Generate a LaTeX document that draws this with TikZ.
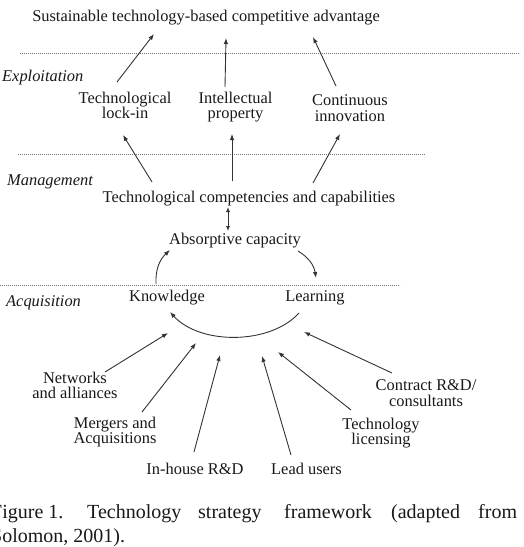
\documentclass[tikz,border=0pt]{standalone}
\usepackage{fontspec}
\setmainfont{Liberation Serif}
\usetikzlibrary{arrows.meta}
\begin{document}
\begin{tikzpicture}[x=1pt,y=-1pt,
  lbl/.style={inner sep=0pt, anchor=base, font=\fontsize{16.4}{15.5}\selectfont, text=black!90, align=center},
  lvl/.style={inner sep=0pt, anchor=base west, font=\fontsize{16.4}{16}\selectfont\itshape, text=black!90},
  captxt/.style={inner sep=0pt, anchor=base west, font=\fontsize{20}{24}\selectfont, text=black!90},
  arr/.style={-{Latex[length=6pt,width=4.5pt]}, line width=0.9pt, draw=black!80},
  dbl/.style={{Latex[length=5pt,width=4pt]}-{Latex[length=5pt,width=4pt]}, line width=0.9pt, draw=black!80},
  dots/.style={draw=black!55, line width=0.6pt, dash pattern=on 0.7pt off 1.3pt}]
\clip (0,0) rectangle (523,547);
\fill[white] (0,0) rectangle (523,547);

% level lines
\draw[dots] (20,53) -- (520,53);
\draw[dots] (18,154) -- (425,154);
\draw[dots] (0,285) -- (400,285);

% level labels
\node[lvl] (expl) at (2,81) {Exploitation};
\node[lvl] (mgmt) at (7,185) {Management};
\node[lvl] (acq) at (6,306) {Acquisition};

% main nodes (multi-line nodes: base = last line)
\node[lbl] (title) at (206,21) {Sustainable technology-based competitive advantage};
\node[lbl] (lockin) at (125,118.5) {Technological\\lock-in};
\node[lbl] (ip) at (235.5,118.5) {Intellectual\\property};
\node[lbl] (ci) at (350,121) {Continuous\\innovation};
\node[lbl] (tcc) at (249,202) {Technological competencies and capabilities};
\node[lbl] (ac) at (235,244) {Absorptive capacity};
\node[lbl] (know) at (167,301) {Knowledge};
\node[lbl] (learn) at (315,301) {Learning};

\node[lbl] (net) at (75,398.5) {Networks\\and alliances};
\node[lbl] (ma) at (115,443.5) {Mergers and\\Acquisitions};
\node[lbl] (inh) at (195,474) {In-house R\&D};
\node[lbl] (lead) at (306.5,474) {Lead users};
\node[lbl] (lic) at (381,444.5) {Technology\\licensing};
\node[lbl] (con) at (426,406) {Contract R\&D/\\consultants};

% connector end points
\coordinate (t1) at (154,34);  \coordinate (l1) at (117,82);
\coordinate (t2) at (226,38);  \coordinate (i1) at (225,87);
\coordinate (t3) at (313,37);  \coordinate (c1) at (336,86);
\coordinate (l2) at (123,135); \coordinate (m1) at (152,182);
\coordinate (i2) at (232,134); \coordinate (m2) at (232,181);
\coordinate (c2) at (340,134); \coordinate (m3) at (313,183);
\coordinate (m4) at (228,207); \coordinate (a1) at (228,231);
\coordinate (k1) at (156,284); \coordinate (a2) at (170,250);
\coordinate (a3) at (298,251); \coordinate (r1) at (316,278);
\coordinate (r2) at (299,313); \coordinate (k2) at (170,312);
\coordinate (h1) at (168,333); \coordinate (n1) at (105,372);
\coordinate (h2) at (196,343); \coordinate (g1) at (142,412);
\coordinate (h3) at (220,355); \coordinate (d1) at (194,452);
\coordinate (h4) at (262,356); \coordinate (u1) at (291,455);
\coordinate (h5) at (278,352); \coordinate (p1) at (351,410);
\coordinate (h6) at (304,332); \coordinate (q1) at (392,373);

% exploitation arrows
\draw[arr] (l1) -- (t1);
\draw[arr] (i1) -- (t2);
\draw[arr] (c1) -- (t3);
% management arrows
\draw[arr] (m1) -- (l2);
\draw[arr] (m2) -- (i2);
\draw[arr] (m3) -- (c2);
\draw[dbl] (m4) -- (a1);
% cycle
\draw[arr] (k1) to[bend left=25] (a2);
\draw[arr] (a3) to[bend left=25] (r1);
\draw[arr] (r2) .. controls (270,345) and (200,345) .. (k2);
% acquisition inputs
\draw[arr] (n1) -- (h1);
\draw[arr] (g1) -- (h2);
\draw[arr] (d1) -- (h3);
\draw[arr] (u1) -- (h4);
\draw[arr] (p1) -- (h5);
\draw[arr] (q1) -- (h6);

% caption (cut at the left edge, as in the reference)
\node[captxt] (cw1) at (-9,518) {Figure 1.};
\node[captxt] (cw2) at (87,518) {Technology};
\node[captxt] (cw3) at (198,518) {strategy};
\node[captxt] (cw4) at (284,518) {framework};
\node[captxt] (cw5) at (391,518) {(adapted};
\node[captxt] (cw6) at (478,518) {from};
\node[captxt] (cw7) at (-9,542) {Solomon, 2001).};
\end{tikzpicture}
\end{document}
